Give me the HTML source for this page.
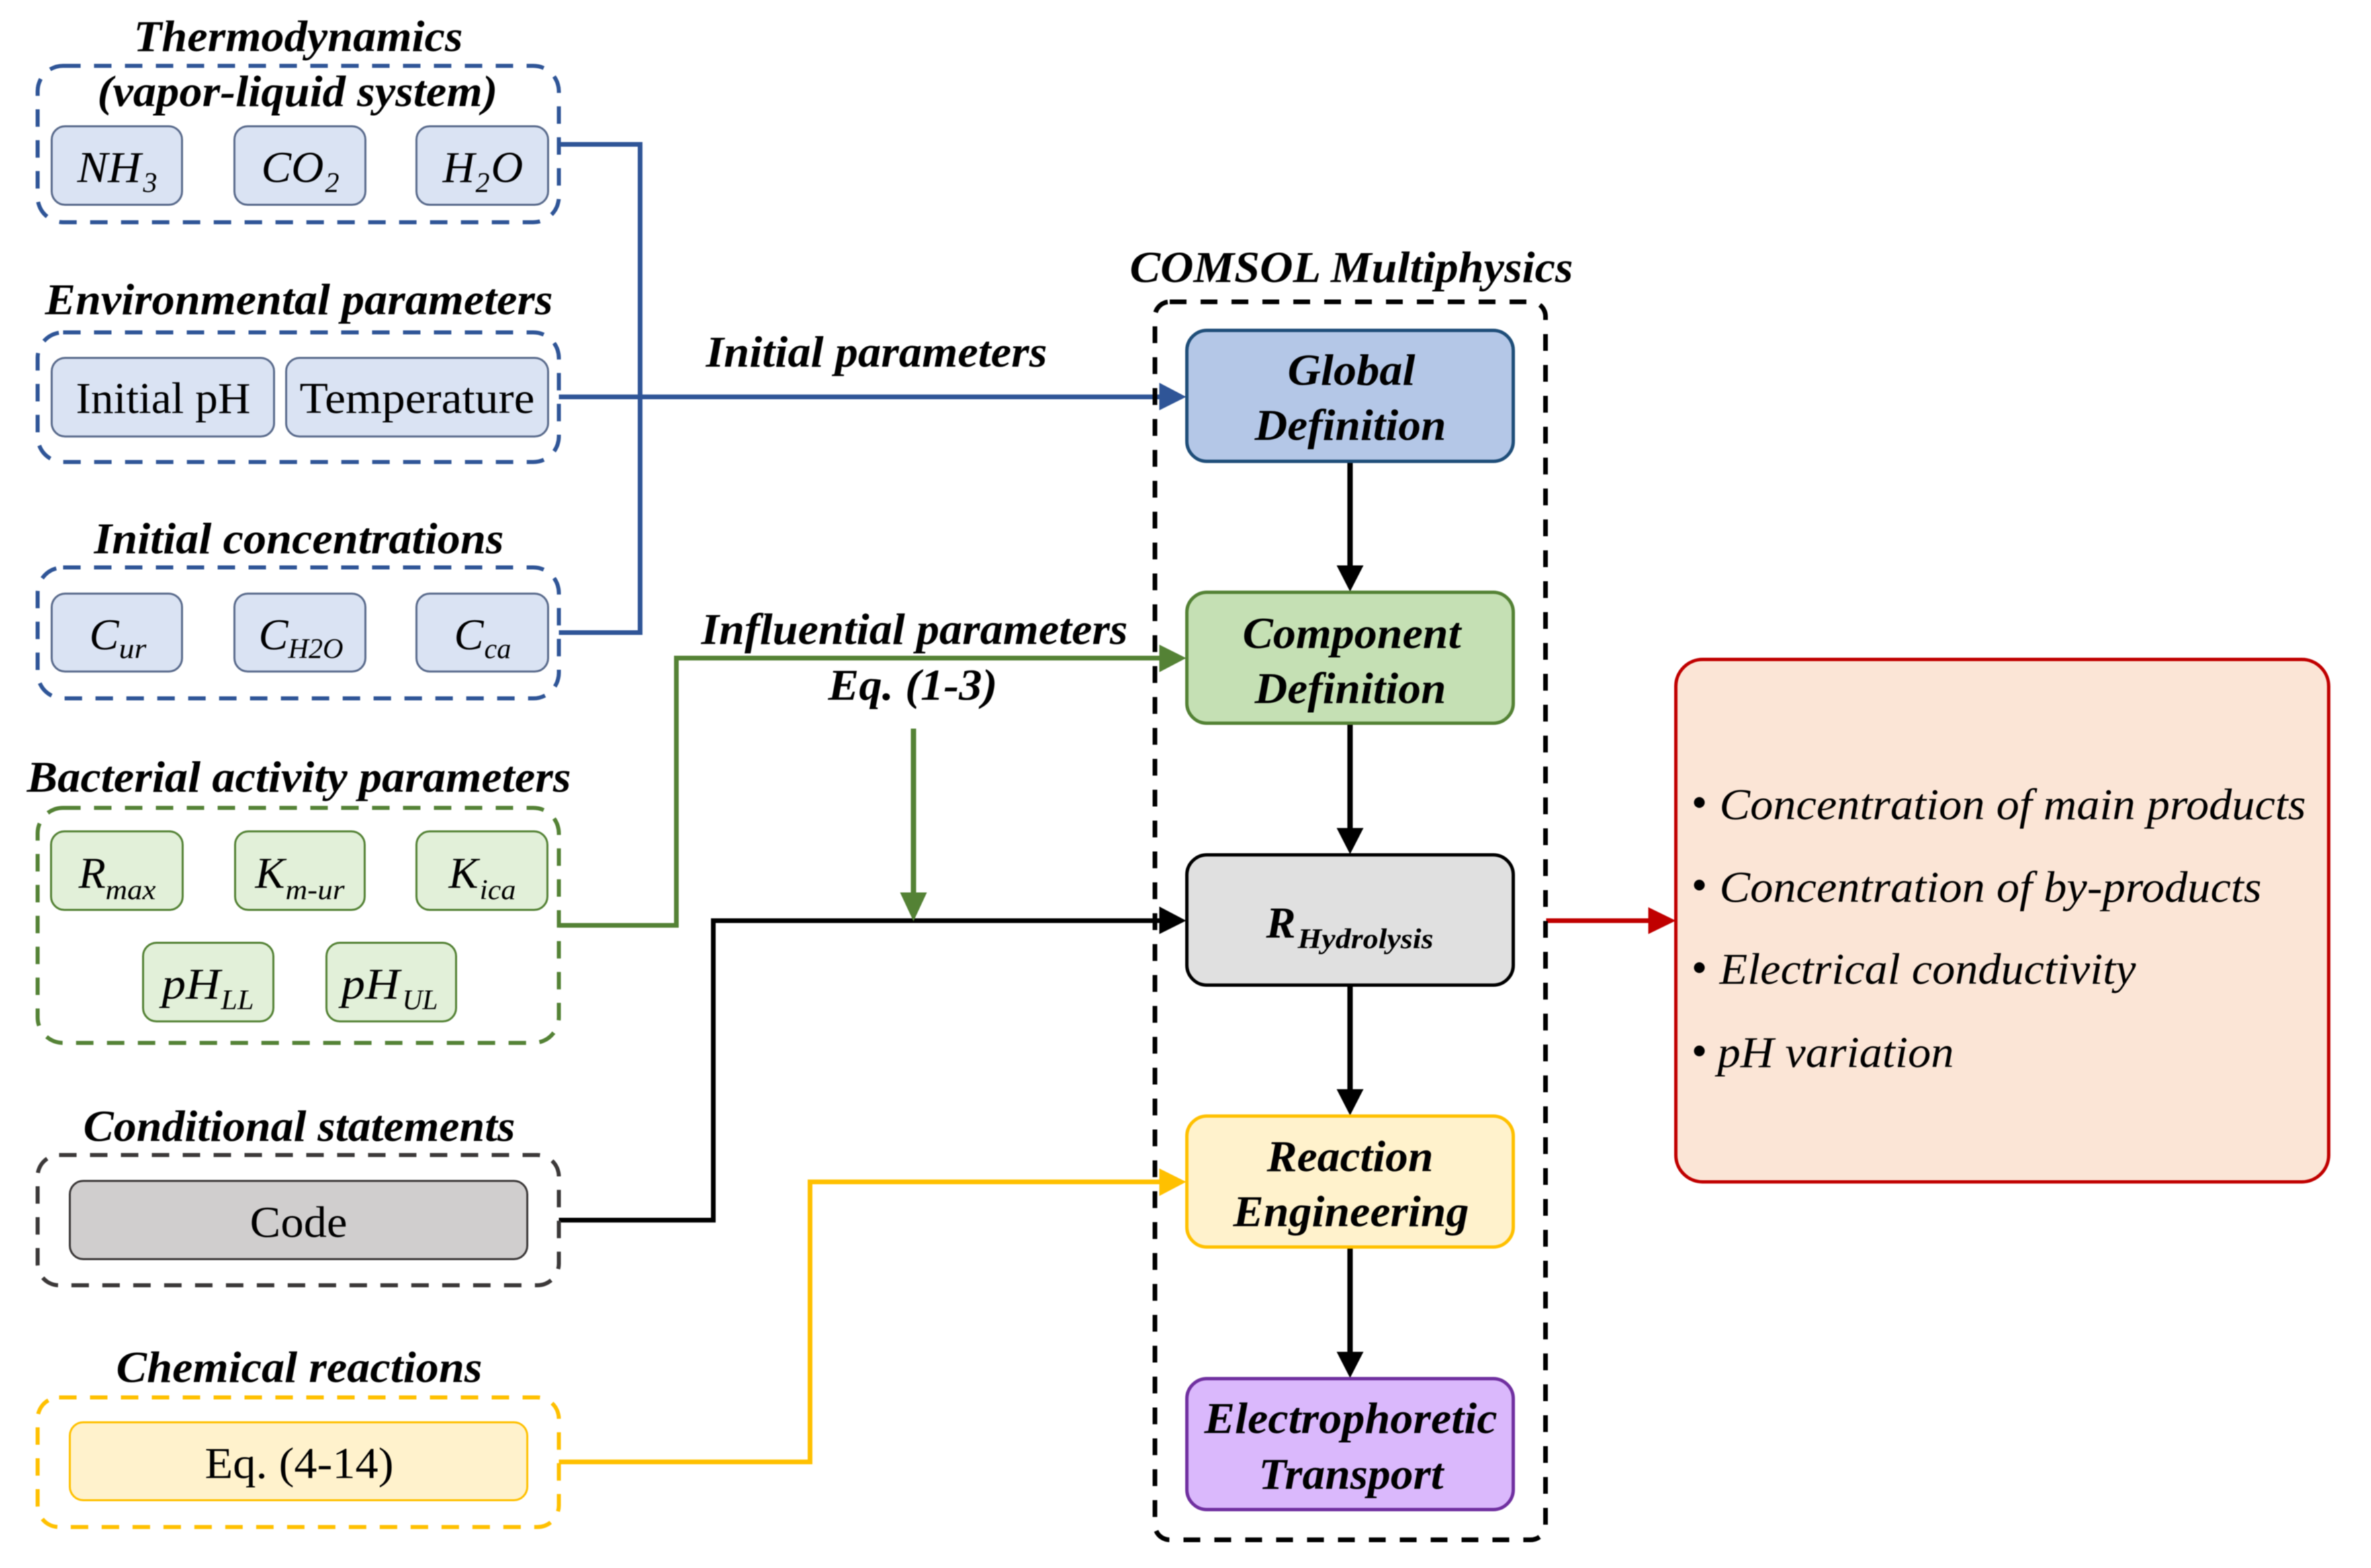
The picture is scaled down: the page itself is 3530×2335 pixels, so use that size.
<!DOCTYPE html>
<html><head><meta charset="utf-8"><style>
html,body{margin:0;padding:0;background:#fff}
svg{display:block;filter:blur(.7px)}
text{font-family:"Liberation Serif",serif;fill:#000}
.t{font-weight:bold;font-style:italic;font-size:66px}
.i{font-style:italic;font-size:66px}
.s{font-style:italic;font-size:42px}
.r{font-size:66px}
.b{font-style:italic;font-size:66px}
.d{fill:none;stroke-width:6;stroke-dasharray:26 20}
.in{stroke-width:3}
.m{stroke-width:5}
</style></head><body>
<svg xmlns="http://www.w3.org/2000/svg" width="3530" height="2335" viewBox="0 0 3530 2335">
<rect width="3530" height="2335" fill="#fff"/>

<!-- connectors -->
<g fill="none" stroke-width="7">
<path d="M832 215H953V942H832" stroke="#2F5597"/>
<path d="M832 591H1730" stroke="#2F5597"/>
<path d="M832 1378H1007V980H1730" stroke="#548235"/>
<path d="M1360 1085V1335" stroke="#548235" stroke-width="8"/>
<path d="M832 1817H1062V1371H1730" stroke="#000"/>
<path d="M832 2177H1206V1760H1730" stroke="#FFC000"/>
<path d="M2302 1371H2458" stroke="#C00000"/>
<path d="M2010 687V845M2010 1077V1235M2010 1467V1625M2010 1857V2015" stroke="#000" stroke-width="8"/>
</g>

<!-- outer dashed -->
<rect class="d" x="56" y="98" width="776" height="233" rx="38" stroke="#2F5597"/>
<rect class="d" x="56" y="495" width="776" height="193" rx="38" stroke="#2F5597"/>
<rect class="d" x="56" y="845" width="776" height="195" rx="38" stroke="#2F5597"/>
<rect class="d" x="56" y="1203" width="776" height="350" rx="38" stroke="#548235"/>
<rect class="d" x="56" y="1720" width="776" height="194" rx="32" stroke="#3B3838"/>
<rect class="d" x="56" y="2081" width="776" height="193" rx="32" stroke="#FFC000"/>
<rect x="1719.5" y="449.5" width="581.5" height="1843.5" rx="22" fill="none" stroke="#000" stroke-width="7" stroke-dasharray="25 21"/>

<!-- arrowheads -->
<polygon points="1726,570 1766,591 1726,611" fill="#2F5597"/>
<polygon points="1726,960 1766,980 1726,1001" fill="#548235"/>
<polygon points="1726,1350 1766,1371 1726,1391" fill="#000"/>
<polygon points="1726,1740 1766,1760 1726,1781" fill="#FFC000"/>
<polygon points="1340,1329 1380,1329 1360,1372" fill="#548235"/>
<polygon points="2454,1351 2495,1371 2454,1391" fill="#C00000"/>
<polygon points="1990,842 2030,842 2010,881" fill="#000"/>
<polygon points="1990,1233 2030,1233 2010,1272" fill="#000"/>
<polygon points="1990,1622 2030,1622 2010,1661" fill="#000"/>
<polygon points="1990,2013 2030,2013 2010,2052" fill="#000"/>

<!-- inner blue -->
<g fill="#DAE3F3" stroke="#5A6B8C" class="in">
<rect x="77" y="188" width="194" height="117" rx="20"/>
<rect x="349" y="188" width="195" height="117" rx="20"/>
<rect x="620" y="188" width="196" height="117" rx="20"/>
<rect x="77" y="533" width="331" height="117" rx="20"/>
<rect x="426" y="533" width="390" height="117" rx="20"/>
<rect x="77" y="884" width="194" height="116" rx="20"/>
<rect x="349" y="884" width="195" height="116" rx="20"/>
<rect x="620" y="884" width="196" height="116" rx="20"/>
</g>
<!-- inner green -->
<g fill="#E2F0D9" stroke="#548235" class="in">
<rect x="76" y="1238" width="196" height="117" rx="20"/>
<rect x="350" y="1238" width="193" height="117" rx="20"/>
<rect x="620" y="1238" width="195" height="117" rx="20"/>
<rect x="213" y="1404" width="194" height="117" rx="20"/>
<rect x="486" y="1404" width="193" height="117" rx="20"/>
</g>
<rect x="104" y="1758.5" width="681" height="116.5" rx="20" fill="#D0CECE" stroke="#3B3838" class="in"/>
<rect x="104" y="2118" width="681" height="116" rx="20" fill="#FFF2CC" stroke="#FFC000" class="in"/>

<!-- main boxes -->
<g class="m">
<rect x="1767" y="492" width="486" height="195" rx="30" fill="#B4C7E7" stroke="#1F4E79"/>
<rect x="1767" y="882" width="486" height="195" rx="30" fill="#C5E0B4" stroke="#548235"/>
<rect x="1767" y="1273" width="486" height="194" rx="30" fill="#E0E0E0" stroke="#000"/>
<rect x="1767" y="1662" width="486" height="195" rx="30" fill="#FFF2CC" stroke="#FFC000"/>
<rect x="1767" y="2053" width="486" height="195" rx="30" fill="#DAB8FC" stroke="#7030A0"/>
<rect x="2495" y="982" width="972" height="778" rx="40" fill="#FBE5D6" stroke="#C00000"/>
</g>

<!-- titles -->
<text class="t" x="199" y="76" textLength="490" lengthAdjust="spacingAndGlyphs">Thermodynamics</text>
<text class="t" x="145" y="158" textLength="596" lengthAdjust="spacingAndGlyphs">(vapor-liquid system)</text>
<text class="t" x="67" y="468" textLength="756" lengthAdjust="spacingAndGlyphs">Environmental parameters</text>
<text class="t" x="140" y="824" textLength="610" lengthAdjust="spacingAndGlyphs">Initial concentrations</text>
<text class="t" x="40" y="1179" textLength="810" lengthAdjust="spacingAndGlyphs">Bacterial activity parameters</text>
<text class="t" x="124" y="1699" textLength="643" lengthAdjust="spacingAndGlyphs">Conditional statements</text>
<text class="t" x="173" y="2058" textLength="545" lengthAdjust="spacingAndGlyphs">Chemical reactions</text>
<text class="t" x="1051" y="546" textLength="508" lengthAdjust="spacingAndGlyphs">Initial parameters</text>
<text class="t" x="1044" y="959" textLength="635" lengthAdjust="spacingAndGlyphs">Influential parameters</text>
<text class="t" x="1233" y="1042" textLength="252" lengthAdjust="spacingAndGlyphs">Eq. (1-3)</text>
<text class="t" x="1682" y="420" textLength="660" lengthAdjust="spacingAndGlyphs">COMSOL Multiphysics</text>

<!-- box labels -->
<text class="t" x="1917" y="573" textLength="190" lengthAdjust="spacingAndGlyphs">Global</text>
<text class="t" x="1868" y="655" textLength="285" lengthAdjust="spacingAndGlyphs">Definition</text>
<text class="t" x="1850" y="965" textLength="325" lengthAdjust="spacingAndGlyphs">Component</text>
<text class="t" x="1868" y="1047" textLength="285" lengthAdjust="spacingAndGlyphs">Definition</text>
<text class="t" x="1885" y="1396">R</text>
<text class="t" x="1932" y="1412" style="font-size:42px" textLength="202" lengthAdjust="spacingAndGlyphs">Hydrolysis</text>
<text class="t" x="1886" y="1744" textLength="248" lengthAdjust="spacingAndGlyphs">Reaction</text>
<text class="t" x="1836" y="1826" textLength="351" lengthAdjust="spacingAndGlyphs">Engineering</text>
<text class="t" x="1793" y="2134" textLength="436" lengthAdjust="spacingAndGlyphs">Electrophoretic</text>
<text class="t" x="1874" y="2217" textLength="275" lengthAdjust="spacingAndGlyphs">Transport</text>

<!-- regular -->
<text class="r" x="113" y="615" textLength="260" lengthAdjust="spacingAndGlyphs">Initial pH</text>
<text class="r" x="446" y="615" textLength="350" lengthAdjust="spacingAndGlyphs">Temperature</text>
<text class="r" x="372" y="1842" textLength="145" lengthAdjust="spacingAndGlyphs">Code</text>
<text class="r" x="305" y="2201" textLength="281" lengthAdjust="spacingAndGlyphs">Eq. (4-14)</text>

<!-- math -->
<text class="i" x="115" y="271" textLength="95" lengthAdjust="spacingAndGlyphs">NH</text><text class="s" x="213" y="286">3</text>
<text class="i" x="389" y="271" textLength="93" lengthAdjust="spacingAndGlyphs">CO</text><text class="s" x="484" y="286">2</text>
<text class="i" x="659" y="271">H</text><text class="s" x="708" y="286">2</text><text class="i" x="731" y="271">O</text>
<text class="i" x="133" y="967">C</text><text class="s" x="177" y="980" textLength="41" lengthAdjust="spacingAndGlyphs">ur</text>
<text class="i" x="385" y="967">C</text><text class="s" x="429" y="980" textLength="82" lengthAdjust="spacingAndGlyphs">H2O</text>
<text class="i" x="676" y="967">C</text><text class="s" x="721" y="980" textLength="40" lengthAdjust="spacingAndGlyphs">ca</text>
<text class="i" x="117" y="1322">R</text><text class="s" x="157" y="1339" textLength="75" lengthAdjust="spacingAndGlyphs">max</text>
<text class="i" x="380" y="1322">K</text><text class="s" x="425" y="1339" textLength="88" lengthAdjust="spacingAndGlyphs">m-ur</text>
<text class="i" x="668" y="1322">K</text><text class="s" x="714" y="1339" textLength="54" lengthAdjust="spacingAndGlyphs">ica</text>
<text class="i" x="241" y="1487" textLength="87" lengthAdjust="spacingAndGlyphs">pH</text><text class="s" x="329" y="1503" textLength="49" lengthAdjust="spacingAndGlyphs">LL</text>
<text class="i" x="508" y="1487" textLength="87" lengthAdjust="spacingAndGlyphs">pH</text><text class="s" x="599" y="1503" textLength="53" lengthAdjust="spacingAndGlyphs">UL</text>

<!-- results -->
<g fill="#000">
<circle cx="2530" cy="1195" r="8"/><circle cx="2530" cy="1318" r="8"/><circle cx="2530" cy="1441" r="8"/><circle cx="2530" cy="1565" r="8"/>
</g>
<text class="b" x="2560" y="1220" textLength="873" lengthAdjust="spacingAndGlyphs">Concentration of main products</text>
<text class="b" x="2560" y="1343" textLength="807" lengthAdjust="spacingAndGlyphs">Concentration of by-products</text>
<text class="b" x="2560" y="1465" textLength="620" lengthAdjust="spacingAndGlyphs">Electrical conductivity</text>
<text class="b" x="2557" y="1589" textLength="352" lengthAdjust="spacingAndGlyphs">pH variation</text>
</svg>
</body></html>
